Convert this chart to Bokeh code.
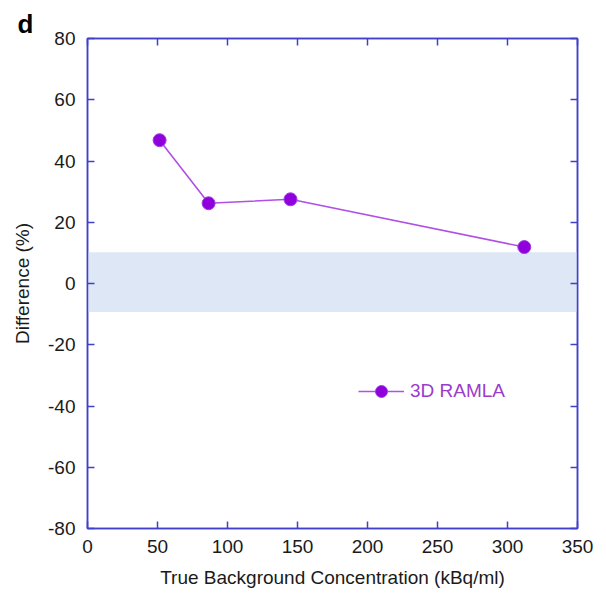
from bokeh.plotting import figure
from bokeh.models import (LinearAxis, Range1d, Legend, LegendItem, BoxAnnotation, FixedTicker,
                          CustomJSTickFormatter)
from bokeh.embed import file_html
from bokeh.resources import INLINE

# data
conc = [51.5, 86.5, 145.0, 312.0]
diff = [46.8, 26.2, 27.5, 11.9]
band_low, band_high = -9.3, 10.2
x_ticks = [0, 50, 100, 150, 200, 250, 300, 350]
y_ticks = [-80, -60, -40, -20, 0, 20, 40, 60, 80]
series_name = "3D RAMLA"
panel_letter = "d"

AXIS = "#4040cc"
LINE = "#b050e6"
MARK = "#8f00dd"
FONT = "Liberation Sans"
FS = "19px"

p = figure(frame_width=490, frame_height=490, output_backend="svg", toolbar_location=None,
           x_range=Range1d(0, 350), y_range=Range1d(-80, 80),
           x_axis_location=None, y_axis_location=None,
           min_border_left=87, min_border_top=38, min_border_right=20, min_border_bottom=6)
p.grid.visible = False
p.outline_line_color = AXIS
p.outline_line_width = 1.5
p.background_fill_color = "white"
p.border_fill_color = "white"

p.title.text = panel_letter
p.title.align = "left"
p.title.offset = -70
p.title.text_font = FONT
p.title.text_font_size = "26px"
p.title.text_font_style = "bold"
p.title.text_color = "black"
p.title.standoff = 0

xb = LinearAxis(axis_label="True Background Concentration (kBq/ml)")
xt = LinearAxis()
yl = LinearAxis(axis_label="Difference (%)")
yr = LinearAxis()
for ax, ticks, lab in [(xb, x_ticks, True), (xt, x_ticks, False), (yl, y_ticks, True), (yr, y_ticks, False)]:
    ax.ticker = FixedTicker(ticks=ticks)
    ax.axis_line_color = AXIS
    ax.axis_line_width = 1.5
    ax.major_tick_line_color = AXIS
    ax.major_tick_line_width = 1.5
    ax.major_tick_in = 7
    ax.major_tick_out = 0
    ax.minor_tick_line_color = None
    ax.major_label_text_font = FONT
    ax.major_label_text_color = "#1a1a1a"
    ax.major_label_text_font_size = FS
    ax.formatter = CustomJSTickFormatter(code="return tick.toString()" if lab else "return ''")
    ax.axis_label_text_font = FONT
    ax.axis_label_text_font_size = FS
    ax.axis_label_text_font_style = "normal"
    ax.axis_label_text_color = "#1a1a1a"
xb.major_label_standoff = 11
xb.axis_label_standoff = 11
yl.major_label_standoff = 12
yl.axis_label_standoff = 12
xt.major_label_standoff = 0
yr.major_label_standoff = 0
p.add_layout(xb, "below")
p.add_layout(xt, "above")
p.add_layout(yl, "left")
p.add_layout(yr, "right")

p.add_layout(BoxAnnotation(bottom=band_low, top=band_high, fill_color="#dde7f5", fill_alpha=1.0,
                           line_color=None, level="underlay"))

r_line = p.line(conc, diff, line_color=LINE, line_width=1.6)
r_pts = p.scatter(conc, diff, size=13, fill_color=MARK, line_color="#a040e0", line_width=1)

legend = Legend(items=[LegendItem(label=series_name, renderers=[r_line, r_pts])],
                location=(271, 122), border_line_color=None, background_fill_alpha=0,
                padding=0, margin=0, glyph_width=46, glyph_height=30, label_height=30,
                label_standoff=6, label_text_font=FONT, label_text_font_size=FS,
                label_text_color="#9a3ccc")
p.add_layout(legend, "center")

open("out.html", "w").write(file_html(p, INLINE))
